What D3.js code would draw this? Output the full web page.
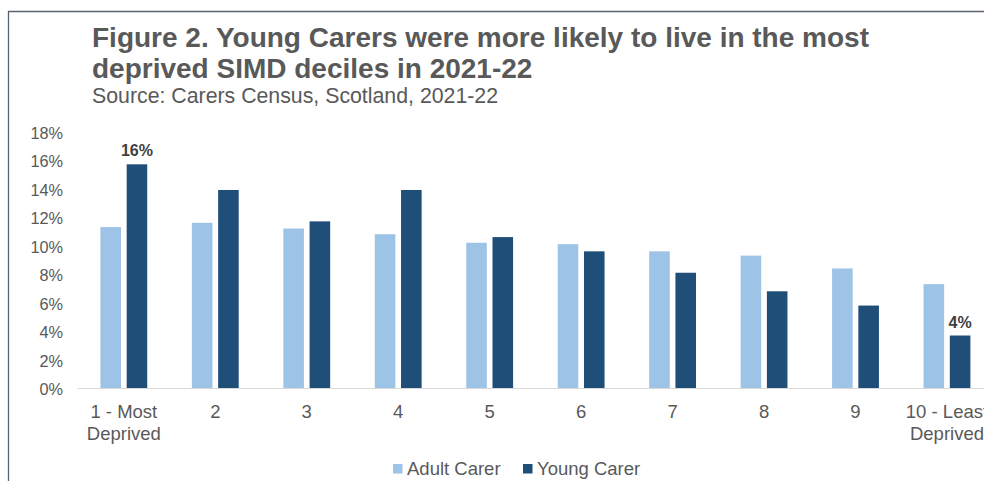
<!DOCTYPE html>
<html>
<head>
<meta charset="utf-8">
<script src="https://cdn.jsdelivr.net/npm/d3@7"></script>
<style>
  html, body { margin: 0; padding: 0; background: #fff; }
  svg { display: block; font-family: "Liberation Sans", Arial, sans-serif; }
</style>
</head>
<body>
<svg id="chart" width="984" height="481"></svg>
<script>
const categories = ["1 - Most|Deprived", "2", "3", "4", "5", "6", "7", "8", "9", "10 - Least|Deprived"];
const adultCarer = [11.3, 11.6, 11.2, 10.8, 10.2, 10.1, 9.6, 9.3, 8.4, 7.3];
const youngCarer = [15.7, 13.9, 11.7, 13.9, 10.6, 9.6, 8.1, 6.8, 5.8, 3.7];
const seriesNames = ["Adult Carer", "Young Carer"];
const seriesColors = ["#9DC3E6", "#1F4E79"];
const yTicks = [0, 2, 4, 6, 8, 10, 12, 14, 16, 18];
const labelled = [{ i: 0, text: "16%" }, { i: 9, text: "4%" }];

const svg = d3.select("#chart");

// frame
svg.append("path")
  .attr("d", "M8.5,490 L8.5,11.5 L990,11.5")
  .attr("fill", "none").attr("stroke", "#56636e").attr("stroke-width", 1.3);

// titles
const title = svg.append("text").attr("x", 92).attr("fill", "#595959")
  .attr("font-weight", "bold").attr("font-size", 28);
title.append("tspan").attr("x", 92).attr("y", 46.5).text("Figure 2. Young Carers were more likely to live in the most");
title.append("tspan").attr("x", 92).attr("y", 77.5).text("deprived SIMD deciles in 2021-22");
svg.append("text").attr("x", 92).attr("y", 102.5).attr("fill", "#595959")
  .attr("font-size", 21.3).text("Source: Carers Census, Scotland, 2021-22");

const x = d3.scaleBand().domain(d3.range(categories.length)).range([78.1, 992.7]).padding(0);
const y = d3.scaleLinear().domain([0, 18]).range([388.3, 131.5]);
const bw = x.bandwidth() * 0.225;
const gap = x.bandwidth() * 0.062;

// y axis labels
const yAxis = d3.axisLeft(y).tickValues(yTicks).tickFormat(d => d + "%").tickSize(0).tickPadding(0);
const ya = svg.append("g").attr("transform", "translate(63,0)").call(yAxis);
ya.select(".domain").remove();
ya.selectAll("text").attr("font-size", 16.3).attr("fill", "#595959")
  .attr("font-family", "Liberation Sans, Arial, sans-serif").attr("dy", "0.4em");

// bars
const series = [adultCarer, youngCarer];
series.forEach((vals, s) => {
  svg.append("g").selectAll("rect").data(vals).join("rect")
    .attr("x", (d, i) => {
      const c = x(i) + x.bandwidth() / 2;
      return s === 0 ? c - gap / 2 - bw : c + gap / 2;
    })
    .attr("y", d => y(d))
    .attr("width", bw)
    .attr("height", d => y(0) - y(d))
    .attr("fill", seriesColors[s]);
});

// x axis line
svg.append("line").attr("x1", 78).attr("x2", 984).attr("y1", 388.5).attr("y2", 388.5)
  .attr("stroke", "#D9D9D9").attr("stroke-width", 1.2);

// category labels
const xl = svg.append("g");
categories.forEach((c, i) => {
  const parts = c.split("|");
  const t = xl.append("text").attr("text-anchor", "middle").attr("font-size", 18.5).attr("fill", "#595959");
  parts.forEach((p, k) => {
    t.append("tspan").attr("x", x(i) + x.bandwidth() / 2).attr("y", 418 + k * 21.5).text(p);
  });
});

// data labels
labelled.forEach(l => {
  const c = x(l.i) + x.bandwidth() / 2 + gap / 2 + bw / 2;
  svg.append("text").attr("x", c).attr("y", y(youngCarer[l.i]) - 8)
    .attr("text-anchor", "middle").attr("font-weight", "bold").attr("font-size", 16)
    .attr("fill", "#404040").text(l.text);
});

// legend
const legendX = [393, 523];
seriesNames.forEach((n, s) => {
  svg.append("rect").attr("x", legendX[s]).attr("y", 464).attr("width", 9.5).attr("height", 9.5)
    .attr("fill", seriesColors[s]);
  svg.append("text").attr("x", legendX[s] + 14).attr("y", 475).attr("font-size", 18.5)
    .attr("fill", "#595959").text(n);
});
</script>
</body>
</html>
